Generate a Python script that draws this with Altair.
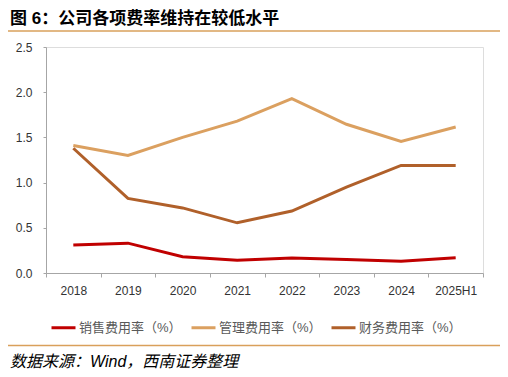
import altair as alt
import pandas as pd

years = ["2018", "2019", "2020", "2021", "2022", "2023", "2024", "2025H1"]
sales = [0.31, 0.33, 0.18, 0.14, 0.165, 0.15, 0.13, 0.17]
admin = [1.41, 1.30, 1.50, 1.68, 1.93, 1.645, 1.455, 1.615]
finance = [1.38, 0.825, 0.72, 0.555, 0.685, 0.95, 1.19, 1.19]
series = ["销售费用率（%）", "管理费用率（%）", "财务费用率（%）"]
colors = ["#C00000", "#DBA060", "#B0602A"]
title_text = "图 6：公司各项费率维持在较低水平"
source_text = "数据来源：Wind，西南证券整理"

rows = []
for name, vals in zip(series, [sales, admin, finance]):
    for y, v in zip(years, vals):
        rows.append({"year": y, "series": name, "value": v})
df = pd.DataFrame(rows)

FONT = "Liberation Sans, Noto Sans CJK SC"

lines = alt.Chart(df).mark_line(strokeWidth=3).encode(
    x=alt.X("year:N", sort=years, title=None, bandPosition=0.5,
            scale=alt.Scale(type="band", paddingInner=0, paddingOuter=0),
            axis=alt.Axis(labelAngle=0, tickBand="extent", tickSize=4,
                          labelPadding=8, labelFontSize=12, labelColor="#333333",
                          domainColor="#A6A6A6", tickColor="#A6A6A6", grid=False)),
    y=alt.Y("value:Q", title=None,
            scale=alt.Scale(domain=[0, 2.5], nice=False),
            axis=alt.Axis(values=[0, 0.5, 1.0, 1.5, 2.0, 2.5], format=".1f",
                          tickSize=3, labelPadding=11, labelFontSize=12,
                          labelColor="#333333", domainColor="#A6A6A6",
                          tickColor="#A6A6A6", grid=False)),
    color=alt.Color("series:N", sort=series,
                    scale=alt.Scale(domain=series, range=colors),
                    legend=alt.Legend(title=None, orient="none", legendX=4, legendY=267,
                                      direction="horizontal", columns=3,
                                      symbolType="stroke", symbolStrokeWidth=3,
                                      symbolSize=576, columnPadding=3,
                                      labelFontSize=13, labelColor="#595959",
                                      labelOffset=2)),
)

one = pd.DataFrame({"k": [0]})

top_rule = alt.Chart(one).mark_rule(color="#D9A05B", strokeWidth=1.5).encode(
    x=alt.value(-41), x2=alt.value(457), y=alt.value(-16))
bottom_rule = alt.Chart(one).mark_rule(color="#D9A05B", strokeWidth=1.5).encode(
    x=alt.value(-41), x2=alt.value(457), y=alt.value(298.5))

title = alt.Chart(one).mark_text(align="left", baseline="alphabetic", fontSize=17,
                                 fontWeight="bold", color="#000000", font=FONT).encode(
    x=alt.value(-36), y=alt.value(-23), text=alt.value(title_text))
source = alt.Chart(one).mark_text(align="left", baseline="middle", fontSize=16,
                                  fontStyle="italic", color="#000000", font=FONT).encode(
    x=alt.value(-36), y=alt.value(315), text=alt.value(source_text))

chart = alt.layer(lines, top_rule, bottom_rule, title, source).properties(
    width=437, height=226,
    autosize=alt.AutoSizeParams(type="none"),
    padding={"left": 38, "top": 39, "right": 17, "bottom": 96},
).configure_view(stroke=None).configure(font=FONT)

chart.save("out.html", embed_options={"renderer": "svg", "actions": False})
